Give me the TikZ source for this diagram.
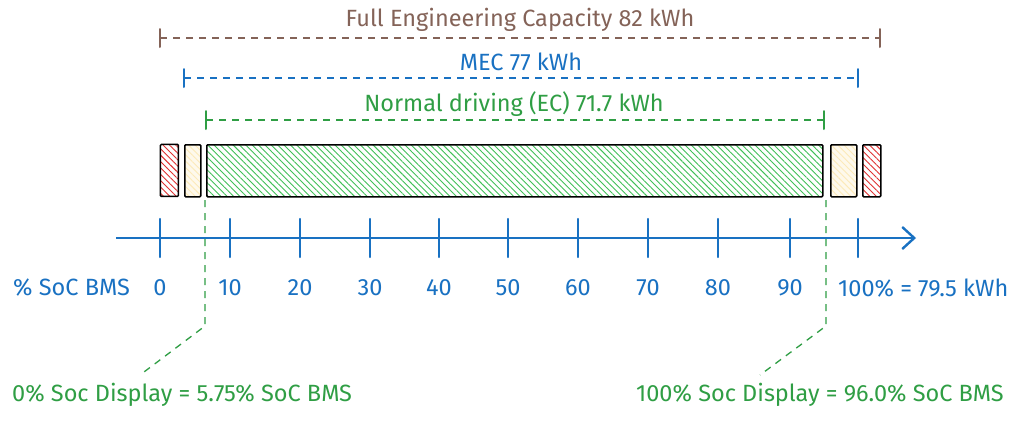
\documentclass[tikz,border=0pt]{standalone}
\usepackage{fontspec}
\setmainfont{Fira Sans}
\usetikzlibrary{patterns.meta,arrows.meta}
\definecolor{brn}{HTML}{846358}
\definecolor{blu}{HTML}{1971C2}
\definecolor{grn}{HTML}{2F9E44}
\definecolor{grnfill}{HTML}{40C057}
\definecolor{redc}{HTML}{E03131}
\definecolor{yel}{HTML}{FAD980}
\begin{document}
\begin{tikzpicture}[x=1pt,y=-1pt,
  lbl/.style={font=\fontsize{23.5}{26}\selectfont, inner sep=0pt},
  bracket/.style={line width=1.4pt, dash pattern=on 7pt off 6pt},
  endtick/.style={line width=2pt, line cap=round},
  cell/.style={draw=black, line width=1.5pt, rounded corners=1pt, minimum height=52pt, inner sep=0pt, anchor=north west},
  hatch/.style={pattern={Lines[angle=-45,distance=4.5pt,line width=0.9pt]}, pattern color=#1},
  axis/.style={blu, line width=2.4pt},
  tk/.style={blu, line width=2.4pt, line cap=round},
  guide/.style={grn, line width=1.3pt, dash pattern=on 7pt off 6pt}]
\useasboundingbox[fill=white] (0,0) rectangle (1024,421);

% brackets
\node[lbl, text=brn] (fec) at (520,20) {Full Engineering Capacity 82 kWh};
\coordinate (fecL) at (160,38); \coordinate (fecR) at (880,38);
\draw[bracket, brn] (fecL) -- (fecR);
\draw[endtick, brn] ([yshift=-9pt]fecL) -- ([yshift=9pt]fecL);
\draw[endtick, brn] ([yshift=-9pt]fecR) -- ([yshift=9pt]fecR);

\node[lbl, text=blu] (mec) at (521,62) {MEC 77 kWh};
\coordinate (mecL) at (184,78); \coordinate (mecR) at (858,78);
\draw[bracket, blu] (mecL) -- (mecR);
\draw[endtick, blu] ([yshift=-9pt]mecL) -- ([yshift=9pt]mecL);
\draw[endtick, blu] ([yshift=-9pt]mecR) -- ([yshift=9pt]mecR);

\node[lbl, text=grn] (ec) at (514,104) {Normal driving (EC) 71.7 kWh};
\coordinate (ecL) at (206,120); \coordinate (ecR) at (824,120);
\draw[bracket, grn] (ecL) -- (ecR);
\draw[endtick, grn] ([yshift=-9pt]ecL) -- ([yshift=9pt]ecL);
\draw[endtick, grn] ([yshift=-9pt]ecR) -- ([yshift=9pt]ecR);

% cells
\node[cell, minimum width=18pt, hatch=redc] (r1) at (160,144) {};
\node[cell, minimum width=16pt, preaction={fill=yel!15}, hatch=yel!55] (y1) at (184,144) {};
\node[cell, minimum width=616pt, hatch=grnfill] (gbox) at (206,144) {};
\node[cell, minimum width=26pt, preaction={fill=yel!15}, hatch=yel!55] (y2) at (830,144) {};
\node[cell, minimum width=18pt, hatch=redc] (r2) at (862,144) {};

% axis
\coordinate (ax0) at (116,238); \coordinate (ax1) at (916,238);
\draw[axis, -{Straight Barb[length=12pt,width=22pt,line width=2.4pt]}] (ax0) -- (ax1);
\foreach \i/\x in {0/160,1/230,2/300,3/370,4/439,5/508,6/578,7/648,8/718,9/790,10/858}{
  \coordinate (t\i) at (\x,238);
  \draw[tk] (\x,219) -- (\x,257);
}
\node[lbl, text=blu, anchor=west] (soc) at (13,288) {\% SoC BMS};
\foreach \i/\x/\n in {0/160/0,1/230/10,2/300/20,3/370/30,4/439/40,5/508/50,6/578/60,7/648/70,8/718/80,9/790/90}{
  \node[lbl, text=blu] (n\i) at (\x,288) {\n};
}
\node[lbl, text=blu, anchor=west] (n10) at (838,288) {100\% = 79.5 kWh};

% guides
\node[lbl, text=grn, anchor=west] (d0) at (12,395) {0\% Soc Display = 5.75\% SoC BMS};
\node[lbl, text=grn, anchor=west] (d100) at (636,395) {100\% Soc Display = 96.0\% SoC BMS};
\coordinate (gl1) at (205,200); \coordinate (gl2) at (205,326); \coordinate (gl3) at (140,375);
\coordinate (gr1) at (826,200); \coordinate (gr2) at (826,326); \coordinate (gr3) at (760,375);
\draw[guide] (gl1) -- (gl2) -- (gl3);
\draw[guide] (gr1) -- (gr2) -- (gr3);
\end{tikzpicture}
\end{document}
